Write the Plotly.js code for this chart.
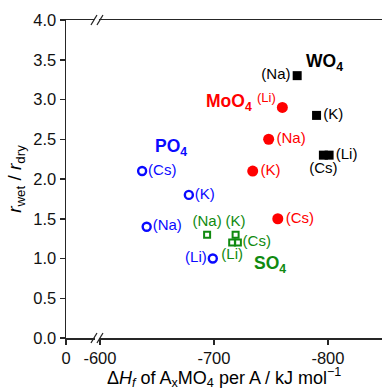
<!DOCTYPE html>
<html>
<head>
<meta charset="utf-8">
<script src="https://cdn.plot.ly/plotly-3.0.1.min.js"></script>
<style>html,body{margin:0;padding:0;background:#fff;}#chart{width:382px;height:388px;}</style>
</head>
<body>
<div id="chart"></div>
<script>
// ---- data ----
const cations = ['Li', 'Na', 'K', 'Cs'];
const wo4DH  = [-801, -773, -790, -796];
const wo4R   = [2.3, 3.3, 2.8, 2.3];
const moo4DH = [-760, -748, -734, -756];
const moo4R  = [2.9, 2.5, 2.1, 1.5];
const po4DH  = [-699, -641, -678, -637];
const po4R   = [1.0, 1.4, 1.8, 2.1];
const so4DH  = [-716, -694, -719, -721];
const so4R   = [1.2, 1.3, 1.3, 1.2];
const xTickVals = [-600, -700, -800];
const yTickVals = [0, 0.5, 1.0, 1.5, 2.0, 2.5, 3.0, 3.5, 4.0];
const seriesNames = ['WO<sub>4</sub>', 'MoO<sub>4</sub>', 'PO<sub>4</sub>', 'SO<sub>4</sub>'];

// ---- style ----
const FONT = 'Arial, "Liberation Sans", sans-serif';
const RED = '#ff0000', BLUE = '#0a0aff', GREEN = '#108a10', BLACK = '#000000';
const labels = cations.map(c => '(' + c + ')');

function series(x, y, color, marker, pos, text) {
  return {
    type: 'scatter', mode: 'markers+text', xaxis: 'x2', yaxis: 'y',
    x: x, y: y, text: text || labels, textposition: pos,
    textfont: {family: FONT, size: 15, color: color},
    marker: marker, cliponaxis: false, showlegend: false, hoverinfo: 'skip'
  };
}

const traces = [
  // empty trace so the short left axis segment (showing 0) is created
  {type: 'scatter', mode: 'markers', x: [], y: [], xaxis: 'x', yaxis: 'y', showlegend: false, hoverinfo: 'skip'},
  series(wo4DH, wo4R, BLACK, {symbol: 'square', size: 9, color: BLACK},
         ['middle right', 'middle left', 'middle right', 'bottom center']),
  series(moo4DH, moo4R, RED, {symbol: 'circle', size: 11, color: RED},
         ['top left', 'middle right', 'middle right', 'middle right'], labels.map((l, i) => i === 0 ? '' : l)),
  series(po4DH, po4R, BLUE, {symbol: 'circle-open', size: 8, color: BLUE, line: {width: 2.4, color: BLUE}},
         ['middle left', 'middle right', 'middle right', 'middle right']),
  series(so4DH, so4R, GREEN, {symbol: 'square-open', size: 6, color: GREEN, line: {width: 2, color: GREEN}},
         ['bottom center', 'top center', 'top center', 'middle right'])
];

const seriesColors = [BLACK, RED, BLUE, GREEN];
const seriesLabelPos = [[-797, 3.46], [-713, 2.96], [-662, 2.39], [-749, 0.92]];
const annotations = seriesNames.map((n, i) => ({
  xref: 'x2', yref: 'y', x: seriesLabelPos[i][0], y: seriesLabelPos[i][1],
  text: '<b>' + n + '</b>', showarrow: false,
  font: {family: FONT, size: 17.5, color: seriesColors[i]}
}));
// MoO4 (Li) label, superscript-like next to the MoO4 name
annotations.push({
  xref: 'x2', yref: 'y', x: moo4DH[0], y: moo4R[0], xshift: -16, yshift: 10,
  text: labels[0], showarrow: false, font: {family: FONT, size: 13, color: RED}
});
annotations.push({
  xref: 'paper', yref: 'paper', x: 0.5, y: 0, yshift: -39, yanchor: 'middle',
  text: 'Δ<i>H</i><sub><i>f</i></sub> of A<sub>x</sub>MO<sub>4</sub> per A / kJ mol<sup>−1</sup>',
  showarrow: false, font: {family: FONT, size: 18, color: '#000'}
});

const AX = {
  showline: true, linecolor: '#262626', linewidth: 1.5, mirror: true,
  ticks: 'outside', ticklen: 5, tickwidth: 1.5, tickcolor: '#262626',
  showgrid: false, zeroline: false,
  tickfont: {family: FONT, size: 16.5, color: '#111'}
};

const brk = 0.098;
function breakShapes(yp) {
  const s = [];
  s.push({type: 'rect', xref: 'paper', yref: 'paper', xsizemode: 'pixel', ysizemode: 'pixel',
          xanchor: brk, yanchor: yp, x0: -2, x1: 2, y0: -2, y1: 2,
          fillcolor: '#fff', line: {width: 0}});
  [-3, 3].forEach(dx => s.push({type: 'line', xref: 'paper', yref: 'paper', xsizemode: 'pixel', ysizemode: 'pixel',
          xanchor: brk, yanchor: yp, x0: dx - 3, x1: dx + 3, y0: -5, y1: 5,
          line: {color: '#262626', width: 1.3}}));
  return s;
}

const layout = {
  width: 382, height: 388,
  margin: {l: 66, r: 0, t: 20, b: 50},
  paper_bgcolor: '#fff', plot_bgcolor: '#fff',
  font: {family: FONT, color: '#000'},
  xaxis: Object.assign({}, AX, {domain: [0, brk], range: [0, -30], tickvals: [0], ticktext: ['0'], anchor: 'y'}),
  xaxis2: Object.assign({}, AX, {domain: [brk, 1], range: [-597.4, -847.4], tickvals: xTickVals,
          ticktext: xTickVals.map(String), anchor: 'y'}),
  yaxis: Object.assign({}, AX, {mirror: false, range: [0, 4], tickvals: yTickVals,
          ticktext: yTickVals.map(v => v.toFixed(1)), anchor: 'x',
          title: {text: '<i>r</i><sub>wet</sub> / <i>r</i><sub>dry</sub>', font: {family: FONT, size: 19, color: '#000'}, standoff: 6}}),
  annotations: annotations,
  shapes: breakShapes(0).concat(breakShapes(1))
};

Plotly.newPlot('chart', traces, layout, {displayModeBar: false, staticPlot: true});
</script>
</body>
</html>
